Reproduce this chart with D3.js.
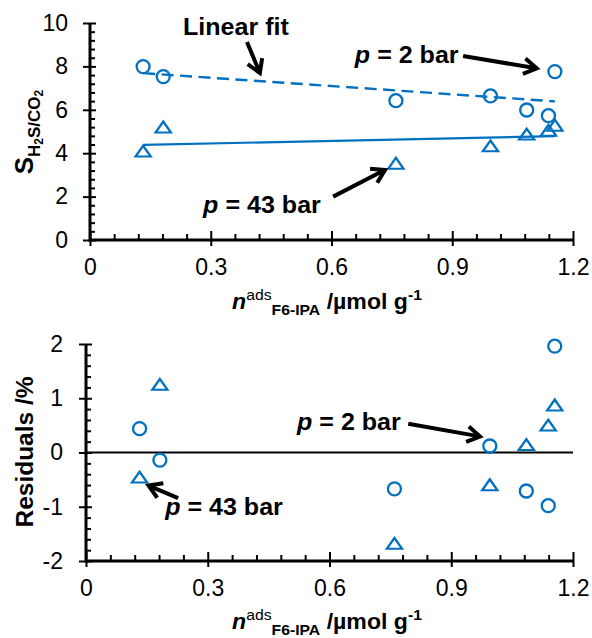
<!DOCTYPE html>
<html>
<head>
<meta charset="utf-8">
<script src="https://cdn.jsdelivr.net/npm/d3@7/dist/d3.min.js"></script>
<style>
  html, body { margin: 0; padding: 0; background: #fff; }
  svg { display: block; }
  text { font-family: "Liberation Sans", Arial, sans-serif; fill: #000; }
</style>
</head>
<body>
<svg id="chart" width="592" height="638"></svg>
<script>
// Adsorbed F6-IPA amount (µmol/g) for each sample
const loading = [0.132, 0.182, 0.760, 0.995, 1.085, 1.139, 1.155];

// H2S/CO2 selectivity at 2 bar and 43 bar
const sel2bar  = [7.99, 7.53, 6.42, 6.64, 5.99, 5.73, 7.76];
const sel43bar = [4.06, 5.17, 3.50, 4.30, 4.84, 5.02, 5.25];

// Linear fit end points [x, y]
const fit2bar  = [[0.132, 7.69], [1.155, 6.39]];
const fit43bar = [[0.132, 4.38], [1.155, 4.79]];

// Residuals of the fits (%)
const resid2bar  = [0.44, -0.14, -0.67, 0.12, -0.71, -0.98, 1.96];
const resid43bar = [-0.47, 1.24, -1.69, -0.61, 0.13, 0.49, 0.86];

// Tick labels
const xTickValues = [0, 0.3, 0.6, 0.9, 1.2];
const xTickLabels = ["0", "0.3", "0.6", "0.9", "1.2"];
const yTopTickValues = [0, 2, 4, 6, 8, 10];
const yTopTickLabels = ["0", "2", "4", "6", "8", "10"];
const yBotTickValues = [-2, -1, 0, 1, 2];
const yBotTickLabels = ["-2", "-1", "0", "1", "2"];

const blue = "#0070C0";
const svg = d3.select("#chart");

const xTop = d3.scaleLinear().domain([0, 1.2]).range([90, 573]);
const yTop = d3.scaleLinear().domain([0, 10]).range([240, 23]);
const xBot = d3.scaleLinear().domain([0, 1.2]).range([86, 573]);
const yBot = d3.scaleLinear().domain([-2, 2]).range([561, 344]);

const minorX = d3.range(0, 1.2001, 0.06).filter(v => Math.abs(v / 0.3 - Math.round(v / 0.3)) > 1e-6);

function drawAxes(x, y, yMinorStep, yVals, yLabs, labelOffset) {
  const g = svg.append("g");
  const [x0] = x.range();
  const y0 = y.range()[0];
  const [d0, d1] = y.domain();
  const minorY = d3.range(d0, d1 + 1e-6, yMinorStep)
    .filter(v => !yVals.some(t => Math.abs(t - v) < 1e-6));

  const strip = sel => { sel.select(".domain").remove(); sel.selectAll("line").attr("stroke-width", 2); };

  // x axis: major ticks cross the line, minor ticks point inward
  g.append("g").attr("transform", `translate(0,${y0})`)
    .call(d3.axisBottom(x).tickValues(xTickValues).tickSize(6).tickPadding(13)
      .tickFormat((d, i) => xTickLabels[i]))
    .call(strip)
    .call(s => s.selectAll("text").attr("font-size", 23).attr("font-family", "Liberation Sans"));
  g.append("g").attr("transform", `translate(0,${y0})`)
    .call(d3.axisTop(x).tickValues(xTickValues).tickSize(9).tickFormat(""))
    .call(strip);
  g.append("g").attr("transform", `translate(0,${y0})`)
    .call(d3.axisTop(x).tickValues(minorX).tickSize(6).tickFormat(""))
    .call(strip);

  // y axis
  g.append("g").attr("transform", `translate(${x0},0)`)
    .call(d3.axisLeft(y).tickValues(yVals).tickSize(7).tickPadding(labelOffset)
      .tickFormat((d, i) => yLabs[i]))
    .call(strip)
    .call(s => s.selectAll("text").attr("font-size", 23).attr("font-family", "Liberation Sans"));
  g.append("g").attr("transform", `translate(${x0},0)`)
    .call(d3.axisRight(y).tickValues(yVals).tickSize(6).tickFormat(""))
    .call(strip);
  g.append("g").attr("transform", `translate(${x0},0)`)
    .call(d3.axisRight(y).tickValues(minorY).tickSize(5).tickFormat(""))
    .call(strip);

  // axis lines
  g.append("line").attr("x1", x0).attr("x2", x.range()[1]).attr("y1", y0).attr("y2", y0)
    .attr("stroke", "#000").attr("stroke-width", 3);
  g.append("line").attr("x1", x0).attr("x2", x0).attr("y1", y.range()[0] + 1.5).attr("y2", y.range()[1])
    .attr("stroke", "#000").attr("stroke-width", 3);
}

function circles(x, y, xs, ys) {
  svg.append("g").selectAll("circle").data(xs).join("circle")
    .attr("cx", d => x(d)).attr("cy", (d, i) => y(ys[i])).attr("r", 6.5)
    .attr("fill", "none").attr("stroke", blue).attr("stroke-width", 2.3);
}
const tri = d3.symbol().type(d3.symbolTriangle).size(80);
function triangles(x, y, xs, ys) {
  svg.append("g").selectAll("path").data(xs).join("path")
    .attr("d", tri)
    .attr("transform", (d, i) => `translate(${x(d)},${y(ys[i]) + 1}) scale(1.12,0.92)`)
    .attr("fill", "none").attr("stroke", blue).attr("stroke-width", 2.2);
}

function arrow(x, y, from, to) {
  const p0 = [x(from[0]), y(from[1])], p1 = [x(to[0]), y(to[1])];
  const a = Math.atan2(p1[1] - p0[1], p1[0] - p0[0]);
  const L = 15, spread = 0.55;
  const h1 = [p1[0] - L * Math.cos(a - spread), p1[1] - L * Math.sin(a - spread)];
  const h2 = [p1[0] - L * Math.cos(a + spread), p1[1] - L * Math.sin(a + spread)];
  const g = svg.append("g").attr("stroke", "#000").attr("stroke-width", 4).attr("fill", "none");
  g.append("line").attr("x1", p0[0]).attr("y1", p0[1]).attr("x2", p1[0] - 2 * Math.cos(a)).attr("y2", p1[1] - 2 * Math.sin(a));
  g.append("path").attr("d", d3.line()([h1, p1, h2])).attr("stroke-linejoin", "miter");
}

// bold annotation text, slightly widened
function boldText(px, py, size) {
  return svg.append("text")
    .attr("transform", `translate(${px},${py}) scale(1.09,1)`)
    .attr("font-size", size).attr("font-weight", "bold");
}

function pLabel(x, y, at, num) {
  const t = boldText(x(at[0]), y(at[1]), 23);
  t.append("tspan").attr("font-style", "italic").text("p");
  t.append("tspan").text(` = ${num} bar`);
}

function xTitle(cx, baseline) {
  const t = svg.append("text").attr("transform", `translate(${cx},${baseline}) scale(1.05,1)`)
    .attr("text-anchor", "middle").attr("font-size", 22).attr("font-weight", "bold");
  t.append("tspan").attr("font-style", "italic").text("n");
  t.append("tspan").attr("font-size", 15).attr("font-weight", "normal").attr("dy", -9).text("ads");
  t.append("tspan").attr("font-size", 15).attr("dy", 15).text("F6-IPA");
  t.append("tspan").attr("dy", -6).text(" /µmol g");
  t.append("tspan").attr("font-size", 15).attr("dy", -9).text("-1");
}

// ---------- upper panel: selectivity ----------
drawAxes(xTop, yTop, 0.4, yTopTickValues, yTopTickLabels, 15);

const line = d3.line().x(d => xTop(d[0])).y(d => yTop(d[1]));
svg.append("path").attr("d", line(fit2bar)).attr("fill", "none")
  .attr("stroke", blue).attr("stroke-width", 2.4).attr("stroke-dasharray", "12,6.5");
svg.append("path").attr("d", line(fit43bar)).attr("fill", "none")
  .attr("stroke", blue).attr("stroke-width", 2.2);

circles(xTop, yTop, loading, sel2bar);
triangles(xTop, yTop, loading, sel43bar);

boldText(xTop(0.231), yTop(9.45), 23).text("Linear fit");
arrow(xTop, yTop, [0.39, 9.12], [0.422, 7.70]);
pLabel(xTop, yTop, [0.658, 8.14], "2");
arrow(xTop, yTop, [0.927, 8.48], [1.11, 7.91]);
pLabel(xTop, yTop, [0.281, 1.24], "43");
arrow(xTop, yTop, [0.604, 2.0], [0.733, 3.23]);

// y title with nested subscripts
{
  const t = svg.append("text").attr("transform", "translate(33,132) rotate(-90)")
    .attr("text-anchor", "middle").attr("font-weight", "bold").attr("font-size", 26);
  t.append("tspan").text("S");
  t.append("tspan").attr("font-size", 17).attr("dy", 7).text("H");
  t.append("tspan").attr("font-size", 12).attr("dy", 3).text("2");
  t.append("tspan").attr("font-size", 17).attr("dy", -3).text("S/CO");
  t.append("tspan").attr("font-size", 12).attr("dy", 3).text("2");
}
xTitle(327, 309);

// ---------- lower panel: residuals ----------
drawAxes(xBot, yBot, 0.2, yBotTickValues, yBotTickLabels, 16);
svg.append("line").attr("x1", xBot(0)).attr("x2", xBot(1.2)).attr("y1", yBot(0)).attr("y2", yBot(0))
  .attr("stroke", "#000").attr("stroke-width", 2);

circles(xBot, yBot, loading, resid2bar);
triangles(xBot, yBot, loading, resid43bar);

pLabel(xBot, yBot, [0.52, 0.42], "2");
arrow(xBot, yBot, [0.794, 0.53], [0.971, 0.295]);
pLabel(xBot, yBot, [0.195, -1.15], "43");
arrow(xBot, yBot, [0.227, -0.84], [0.154, -0.61]);

svg.append("text").attr("transform", "translate(33,452) rotate(-90)")
  .attr("text-anchor", "middle").attr("font-weight", "bold").attr("font-size", 24.5)
  .text("Residuals /%");
xTitle(327, 629);
</script>
</body>
</html>
